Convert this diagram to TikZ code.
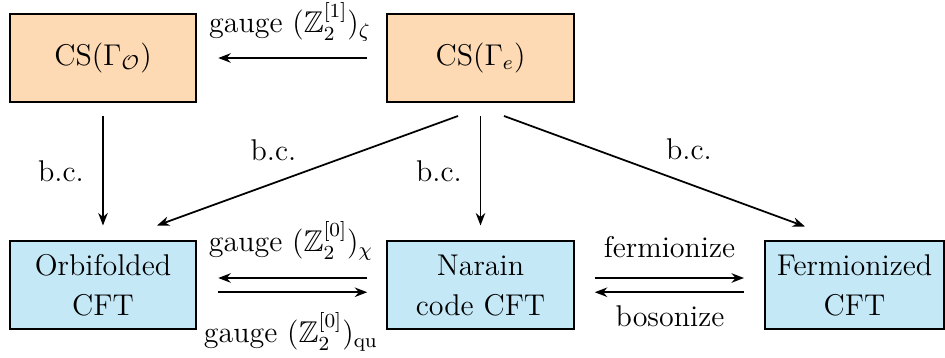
\documentclass[tikz,border=0pt]{standalone}
\usepackage{amsmath,amssymb}
\usetikzlibrary{arrows.meta}
\definecolor{csfill}{RGB}{253,217,180}
\definecolor{cftfill}{RGB}{197,232,247}
\begin{document}
\begin{tikzpicture}[x=0.4pt,y=-0.4pt,
  box/.style={draw=black,line width=0.8pt,minimum width=74.6pt,minimum height=35.2pt,align=center,font=\fontsize{12}{16}\selectfont,inner sep=0pt},
  csbox/.style={box,fill=csfill},
  cftbox/.style={box,fill=cftfill},
  arr/.style={-{Stealth[length=5pt,width=3.8pt]},line width=0.7pt},
  lbl/.style={font=\fontsize{12}{14}\selectfont,anchor=base,inner sep=0pt}]
\useasboundingbox (0,0) rectangle (945,358);
% boxes
\node[csbox] (CSO) at (103,58) {CS$(\Gamma_{\mathcal{O}})$};
\node[csbox] (CSe) at (480.5,58) {CS$(\Gamma_e)$};
\node[cftbox] (Orb) at (103,285.5) {Orbifolded\\CFT};
\node[cftbox] (Nar) at (480.5,285.5) {Narain\\code CFT};
\node[cftbox,minimum width=71.6pt] (Fer) at (854.5,285.5) {Fermionized\\CFT};
% arrows
\draw[arr,shorten <=7.6pt,shorten >=8.4pt] (CSe.west) -- (CSO.east);
\draw[arr,shorten <=5.2pt,shorten >=6pt] (CSO.south) -- (Orb.north);
\draw[arr,shorten <=5.2pt,shorten >=6pt] (CSe.south) -- (Nar.north);
\draw[arr] ([xshift=-9pt,yshift=-5.2pt]CSe.south) -- ([xshift=21.6pt,yshift=6pt]Orb.north);
\draw[arr] ([xshift=9.4pt,yshift=-5.2pt]CSe.south) -- ([xshift=-19.8pt,yshift=5.6pt]Fer.north);
\draw[arr,shorten <=7.6pt,shorten >=8.4pt] ([yshift=3pt]Nar.west) -- ([yshift=3pt]Orb.east);
\draw[arr,shorten <=8.4pt,shorten >=7.6pt] ([yshift=-2.7pt]Orb.east) -- ([yshift=-2.7pt]Nar.west);
\draw[arr,shorten <=8pt,shorten >=8pt] ([yshift=3pt]Nar.east) -- ([yshift=3pt]Fer.west);
\draw[arr,shorten <=8pt,shorten >=8pt] ([yshift=-2.7pt]Fer.west) -- ([yshift=-2.7pt]Nar.east);
% labels
\node[lbl] (lt) at (290,33) {gauge $(\mathbb{Z}_2^{[1]})_\zeta$};
\node[lbl] (lc) at (291,252) {gauge $(\mathbb{Z}_2^{[0]})_\chi$};
\node[lbl] (lq) at (291,343) {gauge $(\mathbb{Z}_2^{[0]})_{\mathrm{qu}}$};
\node[lbl] (lf) at (669.5,258) {fermionize};
\node[lbl] (lb) at (670,327) {bosonize};
\node[lbl] (b1) at (61,182) {b.c.};
\node[lbl] (b2) at (273.5,161) {b.c.};
\node[lbl] (b3) at (439,182) {b.c.};
\node[lbl] (b4) at (689,160) {b.c.};
\end{tikzpicture}
\end{document}
